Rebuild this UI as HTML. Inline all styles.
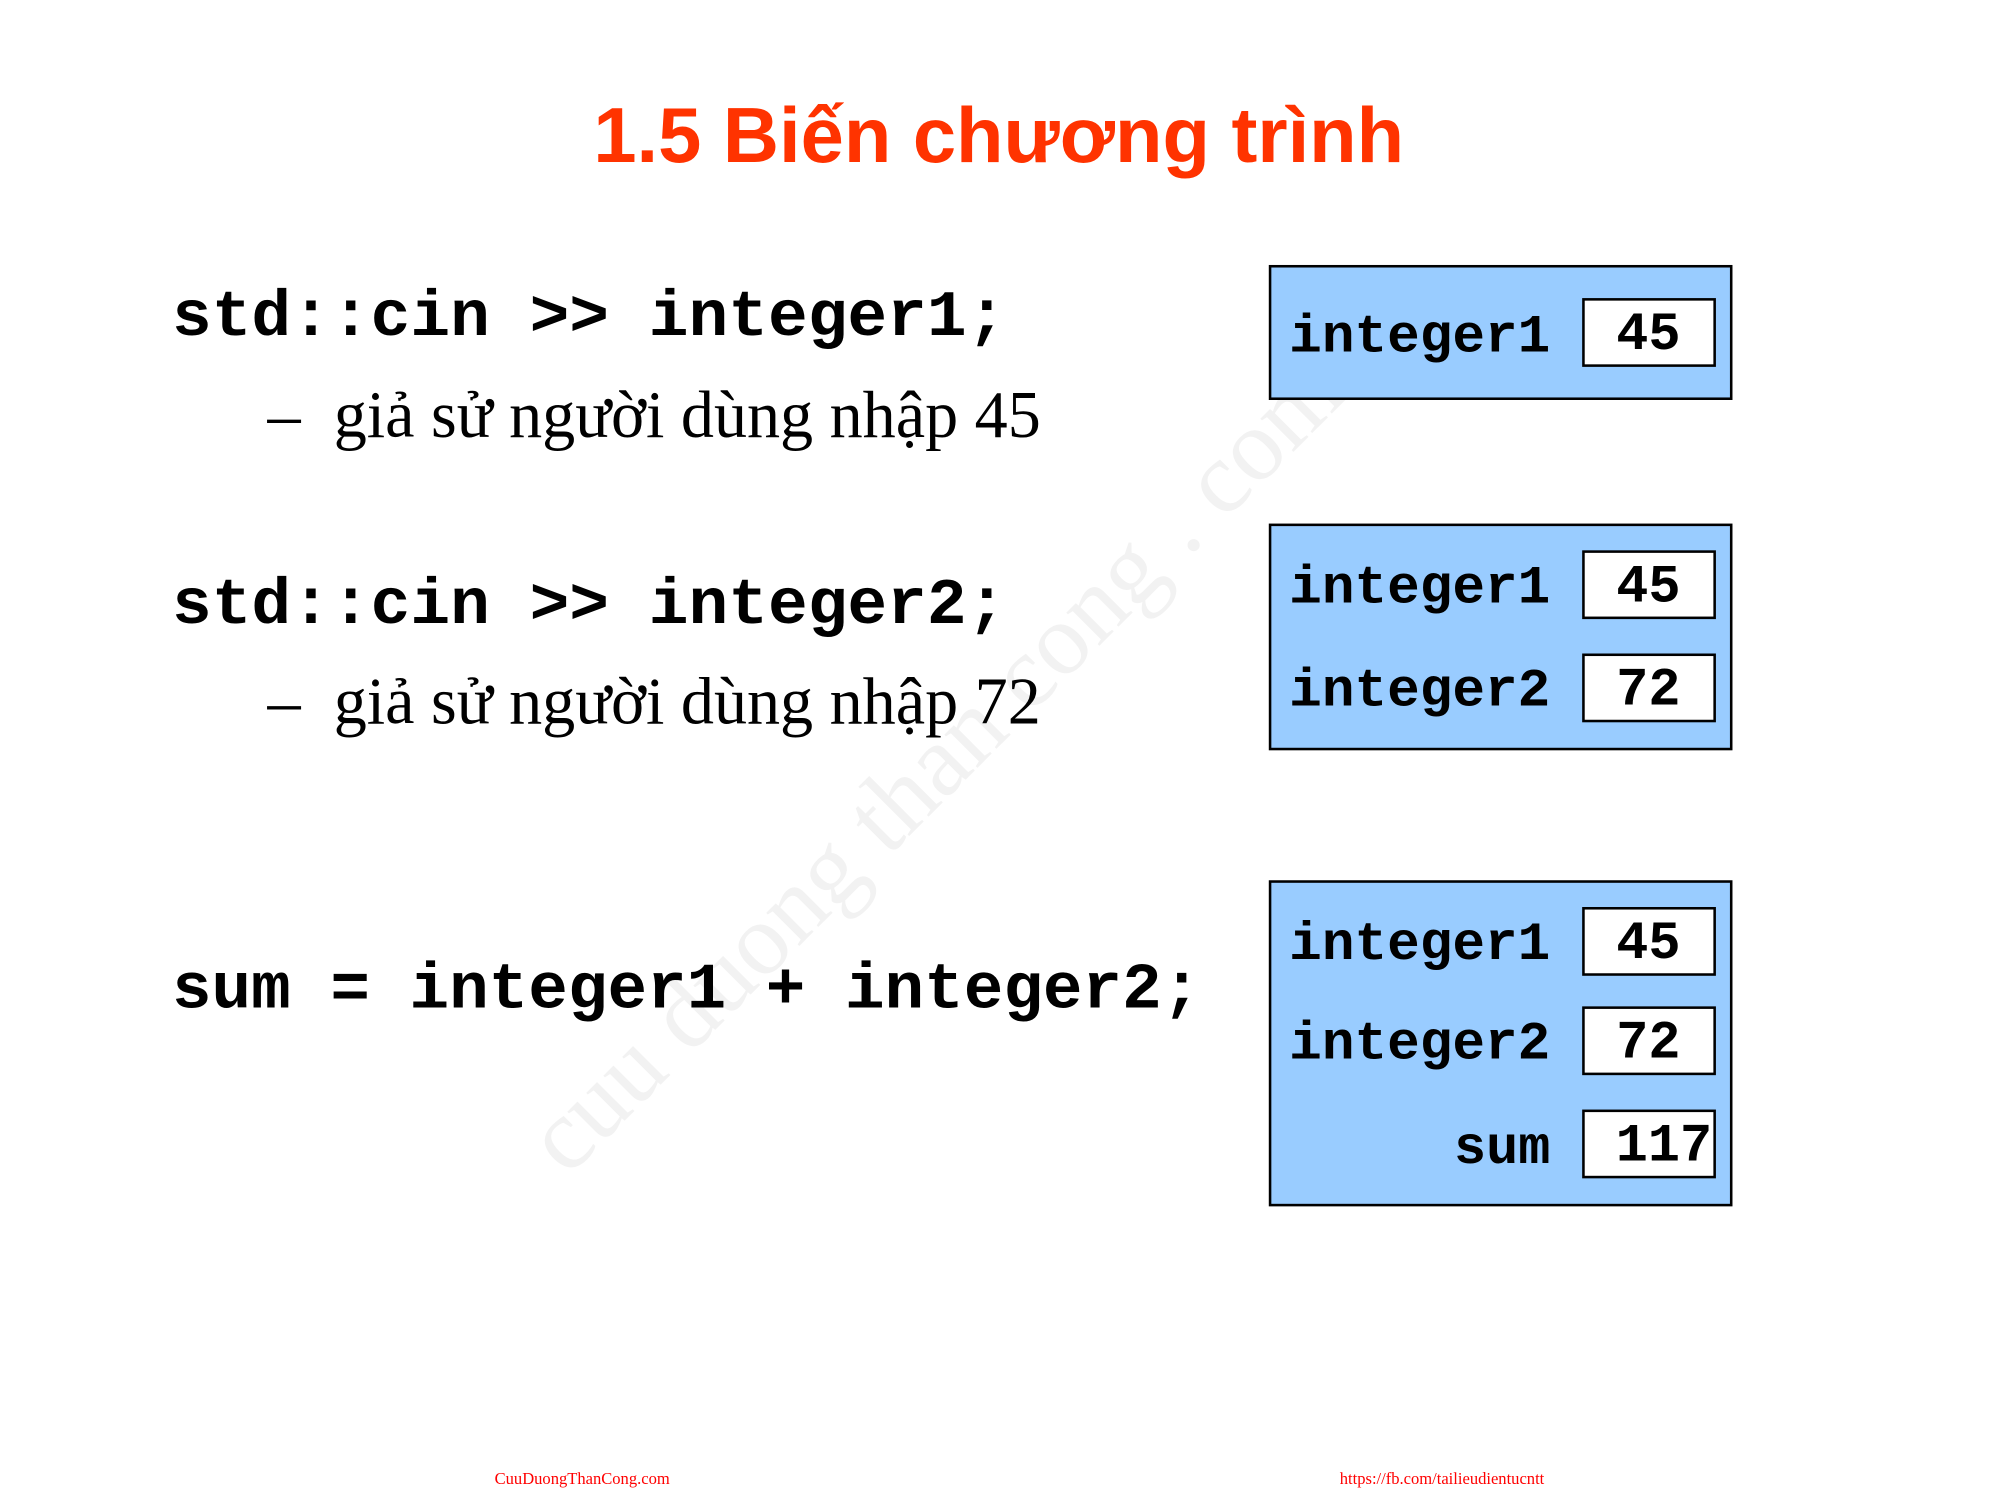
<!DOCTYPE html>
<html><head><meta charset="utf-8"><style>
html,body{margin:0;padding:0;background:#fff;}
svg{display:block;}
.code{font-family:"Liberation Mono",monospace;font-weight:bold;fill:#000;}
.tnr{font-family:"Liberation Serif",serif;fill:#000;}
</style></head><body>
<svg width="2000" height="1500" viewBox="0 0 1570 1177.5" xmlns="http://www.w3.org/2000/svg">
<rect width="1570" height="1178" fill="#fff"/>
<text x="784" y="127" text-anchor="middle" font-family="Liberation Sans, sans-serif" font-weight="bold" font-size="61" fill="#ff3300">1.5 Biến chương trình</text>

<text x="765" y="650" text-anchor="middle" transform="rotate(-45 720 650)" font-family="Liberation Serif, serif" font-size="80" fill="#f2f2f2">cuu duong than cong . com</text>

<text class="code" x="135" y="263" font-size="51" textLength="655" lengthAdjust="spacingAndGlyphs">std::cin &gt;&gt; integer1;</text>
<text class="tnr" x="210" y="343" font-size="52">–</text>
<text class="tnr" x="262" y="343" font-size="52" textLength="555" lengthAdjust="spacingAndGlyphs">giả sử người dùng nhập 45</text>

<text class="code" x="135" y="489" font-size="51" textLength="655" lengthAdjust="spacingAndGlyphs">std::cin &gt;&gt; integer2;</text>
<text class="tnr" x="210" y="568" font-size="52">–</text>
<text class="tnr" x="262" y="568" font-size="52" textLength="555" lengthAdjust="spacingAndGlyphs">giả sử người dùng nhập 72</text>

<text class="code" x="135" y="791" font-size="51" textLength="808" lengthAdjust="spacingAndGlyphs">sum = integer1 + integer2;</text>

<g stroke="#000" stroke-width="2">
<rect x="997" y="209" width="362" height="104" fill="#99ccff"/>
<rect x="997" y="412" width="362" height="176" fill="#99ccff"/>
<rect x="997" y="692" width="362" height="254" fill="#99ccff"/>
<rect x="1243" y="235" width="103" height="52" fill="#fff"/>
<rect x="1243" y="433" width="103" height="52" fill="#fff"/>
<rect x="1243" y="514" width="103" height="52" fill="#fff"/>
<rect x="1243" y="713" width="103" height="52" fill="#fff"/>
<rect x="1243" y="791" width="103" height="52" fill="#fff"/>
<rect x="1243" y="872" width="103" height="52" fill="#fff"/>
</g>
<g class="code" font-size="42">
<text x="1012" y="276" textLength="205" lengthAdjust="spacingAndGlyphs">integer1</text>
<text x="1012" y="473" textLength="205" lengthAdjust="spacingAndGlyphs">integer1</text>
<text x="1012" y="554" textLength="205" lengthAdjust="spacingAndGlyphs">integer2</text>
<text x="1012" y="753" textLength="205" lengthAdjust="spacingAndGlyphs">integer1</text>
<text x="1012" y="831" textLength="205" lengthAdjust="spacingAndGlyphs">integer2</text>
<text x="1217" y="913" text-anchor="end">sum</text>
<text x="1294" y="274" text-anchor="middle">45</text>
<text x="1294" y="472" text-anchor="middle">45</text>
<text x="1294" y="553" text-anchor="middle">72</text>
<text x="1294" y="752" text-anchor="middle">45</text>
<text x="1294" y="830" text-anchor="middle">72</text>
<text x="1344" y="911" text-anchor="end">117</text>
</g>

<text x="457" y="1165" text-anchor="middle" font-family="Liberation Serif, serif" font-size="13" fill="#ff0000">CuuDuongThanCong.com</text>
<text x="1132" y="1165" text-anchor="middle" font-family="Liberation Serif, serif" font-size="13" fill="#ff0000">https://fb.com/tailieudientucntt</text>
</svg>
</body></html>
